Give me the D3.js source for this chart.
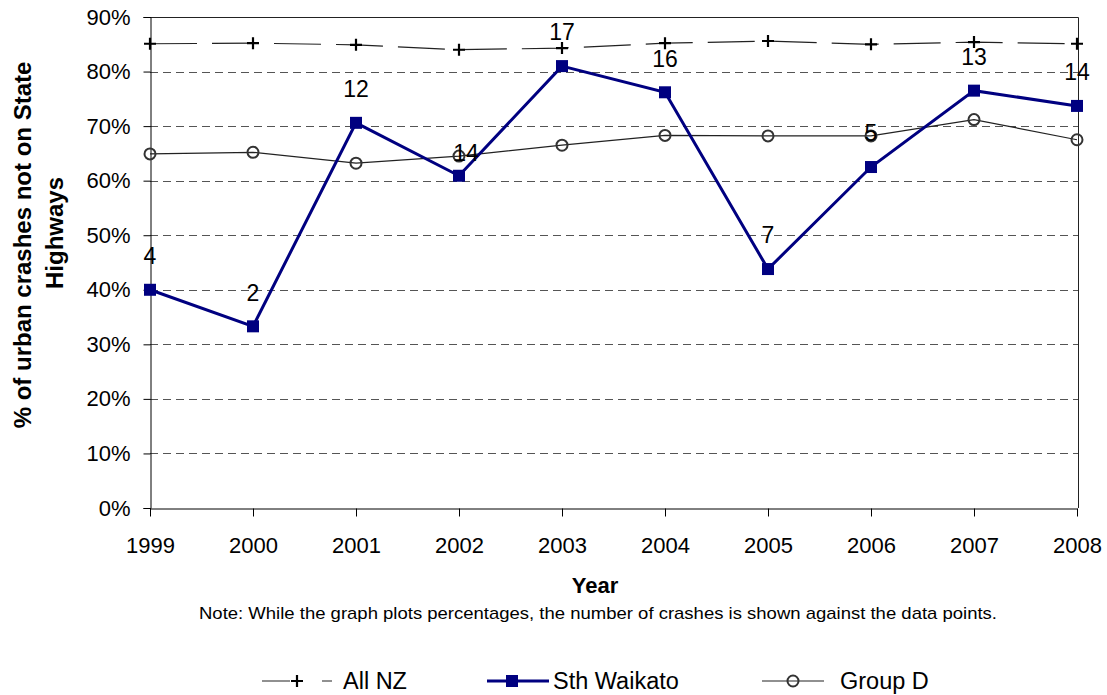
<!DOCTYPE html>
<html>
<head>
<meta charset="utf-8">
<script src="https://cdn.jsdelivr.net/npm/d3@7"></script>
<style>
  body { margin: 0; background: #fff; }
  text { font-family: Arial, "Liberation Sans", sans-serif; }
</style>
</head>
<body>
<div id="chart"></div>
<script>
// values (percent)
var years = [1999, 2000, 2001, 2002, 2003, 2004, 2005, 2006, 2007, 2008];
var allNZ = [85.1, 85.2, 84.9, 84.0, 84.3, 85.2, 85.6, 85.0, 85.4, 85.1];
var sthWaikato = [40.0, 33.3, 70.6, 60.9, 81.0, 76.2, 43.8, 62.5, 76.5, 73.7];
var groupD = [64.9, 65.2, 63.2, 64.5, 66.5, 68.3, 68.2, 68.2, 71.2, 67.5];
var crashCounts = [4, 2, 12, 14, 17, 16, 7, 5, 13, 14];
var yTicks = [0, 10, 20, 30, 40, 50, 60, 70, 80, 90];
var seriesNames = ['All NZ', 'Sth Waikato', 'Group D'];

var width = 1107, height = 695;
var plotL = 150, plotR = 1077, plotT = 17, plotB = 508;

var svg = d3.select('#chart')
  .append('svg')
  .attr('width', width)
  .attr('height', height);

var x = d3.scalePoint().domain(years).range([plotL, plotR]);
var y = d3.scaleLinear().domain([0, 90]).range([plotB, plotT]);

// dashed grid
svg.append('g')
  .selectAll('line')
  .data(yTicks.filter(d => d > 0 && d < 90))
  .enter()
  .append('line')
  .attr('x1', plotL).attr('x2', plotR + 1)
  .attr('y1', d => Math.round(y(d)) + 0.5)
  .attr('y2', d => Math.round(y(d)) + 0.5)
  .attr('stroke', '#555')
  .attr('stroke-dasharray', '8,5');

// top and right border of the plot area
svg.append('path')
  .attr('d', `M${plotL},${Math.round(y(90)) + 0.5}H${plotR + 1.5}V${plotB}`)
  .attr('fill', 'none')
  .attr('stroke', '#222');

// axes
var yAxis = d3.axisLeft(y).tickValues(yTicks).tickSize(7).tickPadding(13)
  .tickFormat(d => d + '%');
svg.append('g')
  .attr('transform', `translate(${plotL + 0.5},0)`)
  .call(yAxis)
  .call(g => g.selectAll('text').style('font-size', '22px').attr('fill', '#000'))
  .call(g => g.selectAll('line,path').attr('stroke', '#000'));

var xAxis = d3.axisBottom(x).tickSize(8).tickPadding(21).tickSizeOuter(0);
svg.append('g')
  .attr('transform', `translate(0,${plotB + 0.5})`)
  .call(xAxis)
  .call(g => g.selectAll('text').style('font-size', '22px').attr('fill', '#000'))
  .call(g => g.selectAll('line,path').attr('stroke', '#000'));

// lines
var line = d3.line().x((d, i) => x(years[i])).y(d => y(d));

svg.append('path')
  .datum(allNZ)
  .attr('d', line)
  .attr('fill', 'none')
  .attr('stroke', '#222')
  .attr('stroke-width', 1.2)
  .attr('stroke-dasharray', '47,15');

svg.append('path')
  .datum(groupD)
  .attr('d', line)
  .attr('fill', 'none')
  .attr('stroke', '#222')
  .attr('stroke-width', 1.2);

svg.append('path')
  .datum(sthWaikato)
  .attr('d', line)
  .attr('fill', 'none')
  .attr('stroke', '#000080')
  .attr('stroke-width', 3);

// markers
function plus(g, cx, cy) {
  g.append('path')
    .attr('d', `M${cx - 6},${cy}H${cx + 6}M${cx},${cy - 6}V${cy + 6}`)
    .attr('stroke', '#000')
    .attr('stroke-width', 2.2);
}
function ring(g, cx, cy) {
  g.append('circle')
    .attr('cx', cx).attr('cy', cy).attr('r', 5.5)
    .attr('fill', 'none')
    .attr('stroke', '#333')
    .attr('stroke-width', 2);
}
function square(g, cx, cy) {
  g.append('rect')
    .attr('x', cx - 6).attr('y', cy - 6)
    .attr('width', 12).attr('height', 12)
    .attr('fill', '#000080');
}

var marks = svg.append('g');
allNZ.forEach((v, i) => plus(marks, x(years[i]), y(v)));
groupD.forEach((v, i) => ring(marks, x(years[i]), y(v)));
sthWaikato.forEach((v, i) => square(marks, x(years[i]), y(v)));

// crash count labels above the Sth Waikato points (2002 label sits lower, nudged right)
svg.append('g')
  .selectAll('text')
  .data(crashCounts)
  .enter()
  .append('text')
  .attr('x', (d, i) => x(years[i]) + (years[i] === 2002 ? 7 : 0))
  .attr('y', (d, i) => y(sthWaikato[i]) - (years[i] === 2002 ? 23 : 34))
  .attr('dy', '0.36em')
  .attr('text-anchor', 'middle')
  .style('font-size', '23px')
  .text(d => d);

// titles
svg.append('text')
  .attr('x', 595)
  .attr('y', 593)
  .attr('text-anchor', 'middle')
  .style('font-size', '22px')
  .style('font-weight', 'bold')
  .text('Year');

svg.append('text')
  .attr('x', 598)
  .attr('y', 619)
  .attr('text-anchor', 'middle')
  .attr('textLength', 798)
  .attr('lengthAdjust', 'spacingAndGlyphs')
  .style('font-size', '17px')
  .text('Note: While the graph plots percentages, the number of crashes is shown against the data points.');

var ytitle = svg.append('g').attr('transform', 'rotate(-90)');
ytitle.append('text')
  .attr('x', -245).attr('y', 31)
  .attr('text-anchor', 'middle')
  .style('font-size', '24px')
  .style('font-weight', 'bold')
  .text('% of urban crashes not on State');
ytitle.append('text')
  .attr('x', -233).attr('y', 63)
  .attr('text-anchor', 'middle')
  .style('font-size', '24px')
  .style('font-weight', 'bold')
  .text('Highways');

// legend
var ly = 681;
var legend = svg.append('g');
var lx = [262, 487, 762];
var textX = [343, 553, 840];

// All NZ sample: dash, plus, short dash
legend.append('path')
  .attr('d', `M${lx[0]},${ly}H${lx[0] + 28}M${lx[0] + 60},${ly}H${lx[0] + 70}`)
  .attr('stroke', '#222').attr('stroke-width', 1.2);
plus(legend, lx[0] + 35, ly);

legend.append('line')
  .attr('x1', lx[1]).attr('x2', lx[1] + 62)
  .attr('y1', ly).attr('y2', ly)
  .attr('stroke', '#000080').attr('stroke-width', 3);
square(legend, lx[1] + 25, ly);

legend.append('line')
  .attr('x1', lx[2]).attr('x2', lx[2] + 62)
  .attr('y1', ly).attr('y2', ly)
  .attr('stroke', '#222').attr('stroke-width', 1.2);
ring(legend, lx[2] + 31, ly);

legend.selectAll('text.lab')
  .data(seriesNames)
  .enter()
  .append('text')
  .attr('class', 'lab')
  .attr('x', (d, i) => textX[i])
  .attr('y', ly)
  .attr('dy', '0.36em')
  .style('font-size', '23.5px')
  .text(d => d);
</script>
</body>
</html>
